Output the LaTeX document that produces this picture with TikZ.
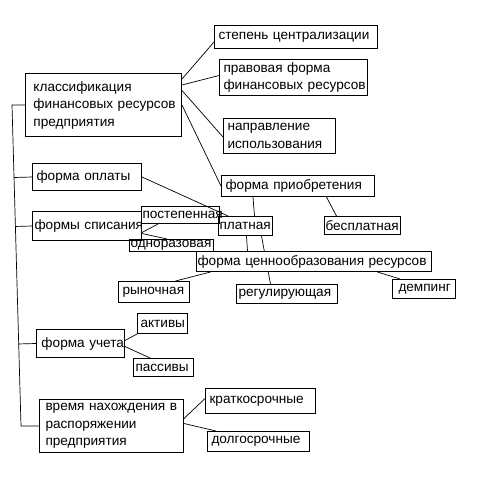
\documentclass[tikz,border=0pt]{standalone}
\usepackage{fontspec}
\setmainfont{Liberation Sans}
\usetikzlibrary{calc,backgrounds}

\begin{document}
\begin{tikzpicture}[
    x=1pt, y=-1pt,
    box/.style={rectangle, draw, line width=1pt, anchor=north west, align=left, inner xsep=4pt, inner ysep=0pt, font=\fontsize{13.6}{17.5}\selectfont},
    tight/.style={box, inner xsep=1pt},
    link/.style={line width=0.7pt}
]
\useasboundingbox (0,0) rectangle (477,488);

% main box
\node[box, inner xsep=8pt, text width=140pt, minimum height=63pt] (klass) at (25,73) {классификация\\финансовых~ресурсов\\предприятия};

% right column
\node[box, text width=155pt, minimum height=23pt] (stepen) at (214,25) {степень~централизации};
\node[box, text width=140pt, minimum height=36pt] (pravo) at (219,59) {правовая~форма\\финансовых~ресурсов};
\node[box, text width=104pt, minimum height=35pt] (napr) at (223,118) {направление\\использования};
\node[box, text width=145pt, minimum height=21pt] (priob) at (221,175) {форма~приобретения};
\node[tight, text width=74pt, minimum height=18pt] (besp) at (324,216) {бесплатная};
\node[tight, text width=52pt, minimum height=19pt] (platn) at (218,216) {платная};

% left column
\node[box, text width=101pt, minimum height=27pt] (oplata) at (32,163) {форма~оплаты};
\node[box, inner xsep=2pt, text width=105pt, minimum height=29pt] (spis) at (32,211) {формы~списания};
\node[tight, text width=76pt, minimum height=17pt] (postep) at (141,206) {постепенная};
\node[tight, text width=82pt, minimum height=12pt] (odnor) at (129,239) {одноразовая};

% price forming
\node[tight, fill=white, text width=233pt, minimum height=20pt] (cen) at (196,251) {форма~ценнообразования~ресурсов};
\node[box, text width=63pt, minimum height=21pt] (ryn) at (118,281) {рыночная};
\node[tight, inner xsep=2pt, text width=97pt, minimum height=19pt] (regul) at (236,284) {регулирующая};
\node[box, inner xsep=6pt, text width=51pt, minimum height=19pt] (demp) at (392,279) {демпинг};

% accounting
\node[box, inner xsep=5pt, text width=78pt, minimum height=28pt] (uchet) at (36,329) {форма~учета};
\node[tight, inner xsep=3pt, text width=44pt, minimum height=20pt] (aktiv) at (137,313) {активы};
\node[tight, inner xsep=2pt, text width=56pt, minimum height=18pt] (passiv) at (133,358) {пассивы};

% time
\node[box, inner xsep=6pt, text width=132pt, minimum height=53pt] (vremya) at (39,399) {время~нахождения~в\\распоряжении\\предприятия};
\node[box, text width=102pt, minimum height=25pt] (krat) at (205,388) {краткосрочные};
\node[box, text width=94pt, minimum height=20pt] (dolg) at (207,431) {долгосрочные};

% trunk
\coordinate (ttop) at ([xshift=-13pt]klass.west);
\coordinate (tbot) at ([xshift=-18pt]vremya.west);

\begin{scope}[on background layer]
\draw[link] (klass.west) -- (ttop) -- (tbot) -- (vremya.west);
\foreach \n in {oplata,spis,uchet}
    \draw[link] (\n.west) -- ($(ttop)!(\n.west)!(tbot)$);

% from main box
\draw[link] ([yshift=-6pt]klass.north east) -- ([yshift=-5pt]stepen.west);
\draw[link] ([yshift=-12pt]klass.north east) -- ([yshift=2pt]pravo.west);
\draw[link] ([yshift=14.5pt]klass.east) -- ([yshift=-1pt]napr.west);
\draw[link] (klass.east) -- (priob.west);

% acquisition
\draw[link] ([xshift=-45pt]priob.south) -- ([xshift=9pt]platn.north);
\draw[link] ([xshift=28.5pt]priob.south) -- ([xshift=-26pt]besp.north);
\draw[link] (oplata.east) -- ([xshift=10pt]platn.north west);

% write-off
\draw[link] ([yshift=-6.5pt]spis.east) -- ([xshift=17pt]postep.south west);
\draw[link] ([yshift=-7.5pt]spis.east) -- ([xshift=38pt]odnor.north west);

% pricing
\draw[link] ([xshift=1pt]platn.south) -- ([xshift=-66.5pt]cen.north);
\draw[link] ([xshift=16pt]platn.south) -- ([xshift=-16.5pt]regul.north);
\draw[link] ([xshift=-103.5pt]cen.south) -- ([xshift=21.5pt]ryn.north);
\draw[link] ([xshift=63.5pt]cen.south) -- ([xshift=8pt]demp.north west);

% accounting
\draw[link] ([yshift=3pt]uchet.east) -- (aktiv.south west);
\draw[link] ([yshift=-3pt]uchet.east) -- ([xshift=17pt]passiv.north west);

% time
\draw[link] ([yshift=7.5pt]vremya.east) -- ([yshift=2.5pt]krat.west);
\draw[link] ([yshift=2.5pt]vremya.east) -- ([xshift=9pt]dolg.north west);
\end{scope}

\end{tikzpicture}
\end{document}
